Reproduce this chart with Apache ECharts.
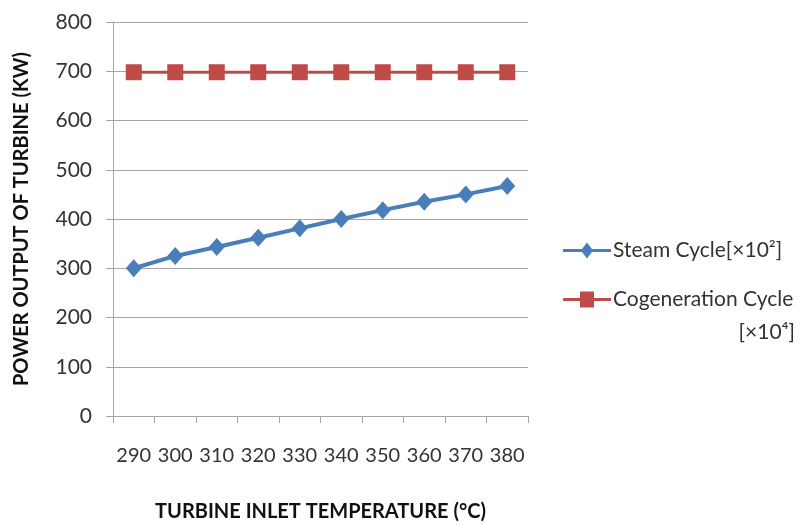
<!DOCTYPE html>
<html><head><meta charset="utf-8">
<script src="https://cdn.jsdelivr.net/npm/echarts@6/dist/echarts.min.js"></script>
<style>html,body{margin:0;padding:0;background:#fff}#c{width:803px;height:525px}</style>
</head><body><div id="c"></div>
<script>
var categories = ['290','300','310','320','330','340','350','360','370','380'];
var steamCycle = [300, 325, 343, 362, 381, 400, 418, 435, 450, 467];
var cogenCycle = [698, 698, 698, 698, 698, 698, 698, 698, 698, 698];
var yTicks = {min: 0, max: 800, interval: 100};

var chart = echarts.init(document.getElementById('c'));
var FONT = 'Lato';
chart.setOption({
  animation: false,
  textStyle: {fontFamily: FONT},
  grid: {left: 113, right: 275, top: 22, bottom: 109, containLabel: false, outerBoundsMode: 'none'},
  legend: {
    orient: 'vertical', left: 563, top: 240, itemGap: 28,
    itemWidth: 48, itemHeight: 20, padding: 0,
    textStyle: {fontFamily: FONT, fontSize: 21, color: '#333', padding: [0, 0, 0, -3]},
    data: [
      {name: 'Steam Cycle[×10²]', icon: 'path://M0,8.5 L19,8.5 L24,2 L29,8.5 L48,8.5 L48,11.5 L29,11.5 L24,18 L19,11.5 L0,11.5 Z'},
      {name: 'Cogeneration Cycle', icon: 'path://M0,8.5 L17,8.5 L17,2 L31,2 L31,8.5 L48,8.5 L48,11.5 L31,11.5 L31,18 L17,18 L17,11.5 L0,11.5 Z'}
    ]
  },
  graphic: [{
    type: 'text', right: 8, top: 322,
    style: {text: '[×10⁴]', fontFamily: FONT, fontSize: 21, fill: '#333', textAlign: 'right'}
  }],
  xAxis: {
    type: 'category', data: categories, boundaryGap: true,
    name: 'TURBINE INLET TEMPERATURE (°C)', nameLocation: 'middle', nameGap: 86,
    nameTextStyle: {fontFamily: FONT, fontWeight: 'bold', fontSize: 20, color: '#111'},
    axisLine: {lineStyle: {color: '#a6a6a6', width: 1}},
    axisTick: {show: true, length: 7, lineStyle: {color: '#a6a6a6'}},
    axisLabel: {fontSize: 20, color: '#333', margin: 30, fontFamily: FONT, interval: 0},
    splitLine: {show: false}
  },
  yAxis: {
    type: 'value', min: yTicks.min, max: yTicks.max, interval: yTicks.interval,
    name: 'POWER OUTPUT OF TURBINE (KW)', nameLocation: 'middle', nameGap: 81,
    nameTextStyle: {fontFamily: FONT, fontWeight: 'bold', fontSize: 20, color: '#111'},
    axisLine: {show: true, lineStyle: {color: '#a6a6a6', width: 1}},
    axisTick: {show: true, length: 7, lineStyle: {color: '#a6a6a6'}},
    axisLabel: {fontSize: 21, color: '#333', margin: 21, fontFamily: FONT},
    splitLine: {show: true, lineStyle: {color: '#a6a6a6', width: 1}}
  },
  series: [
    {
      name: 'Steam Cycle[×10²]', type: 'line', data: steamCycle,
      symbol: 'diamond', symbolSize: [16, 18],
      lineStyle: {color: '#4a7ebb', width: 4},
      itemStyle: {color: '#4a7ebb'}
    },
    {
      name: 'Cogeneration Cycle', type: 'line', data: cogenCycle,
      symbol: 'rect', symbolSize: 16,
      lineStyle: {color: '#be4b48', width: 3},
      itemStyle: {color: '#be4b48'}
    }
  ]
});
</script></body></html>
